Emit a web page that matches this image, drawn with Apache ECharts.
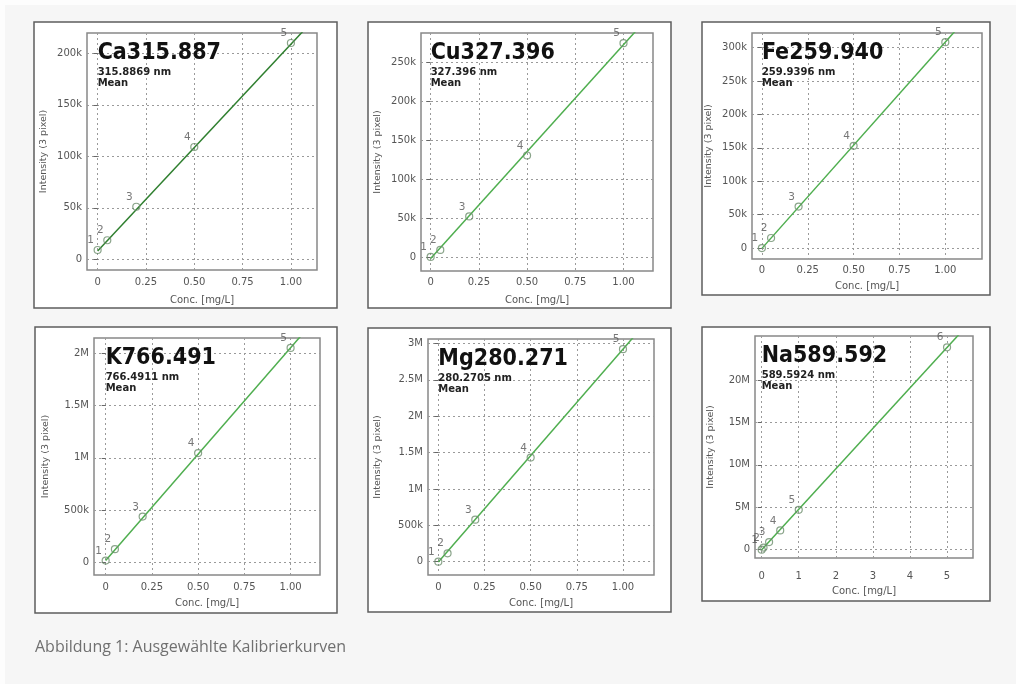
<!DOCTYPE html>
<html>
<head>
<meta charset="utf-8">
<script src="https://cdn.jsdelivr.net/npm/echarts@6/dist/echarts.min.js"></script>
<style>
  html, body { margin: 0; padding: 0; background: #fdfdfd; }
  #chart { width: 1016px; height: 684px; }
</style>
</head>
<body>
<div id="chart"></div>
<script>
// ---- Calibration standards: concentration [mg/L] vs. mean intensity (3 pixel) ----
const concTicks = [0, 0.25, 0.5, 0.75, 1.0];
const concLabels = ['0', '0.25', '0.50', '0.75', '1.00'];

// Ca 315.887
const caLine = 'Ca315.887';
const caWave = '315.8869 nm';
const caConc = [0, 0.05, 0.2, 0.5, 1.0];
const caIntensity = [9000, 18500, 51000, 109000, 210000];
const caFit = [[0, 8000], [1.2, 249000]];
const caXRange = [-0.055, 1.135];
const caYRange = [-10400, 219700];
const caYTicks = [0, 50000, 100000, 150000, 200000];
const caYLabels = ['0', '50k', '100k', '150k', '200k'];

// Cu 327.396
const cuLine = 'Cu327.396';
const cuWave = '327.396 nm';
const cuConc = [0, 0.05, 0.2, 0.5, 1.0];
const cuIntensity = [1000, 10000, 53000, 131000, 275000];
const cuFit = [[0, -1000], [1.2, 327800]];
const cuXRange = [-0.05, 1.153];
const cuYRange = [-17000, 288000];
const cuYTicks = [0, 50000, 100000, 150000, 200000, 250000];
const cuYLabels = ['0', '50k', '100k', '150k', '200k', '250k'];

// Fe 259.940
const feLine = 'Fe259.940';
const feWave = '259.9396 nm';
const feConc = [0, 0.05, 0.2, 0.5, 1.0];
const feIntensity = [0, 15000, 62000, 153000, 308000];
const feFit = [[0, -500], [1.2, 370000]];
const feXRange = [-0.054, 1.2];
const feYRange = [-16400, 321800];
const feYTicks = [0, 50000, 100000, 150000, 200000, 250000, 300000];
const feYLabels = ['0', '50k', '100k', '150k', '200k', '250k', '300k'];

// K 766.491
const kLine = 'K766.491';
const kWave = '766.4911 nm';
const kConc = [0, 0.05, 0.2, 0.5, 1.0];
const kIntensity = [20000, 128000, 439000, 1045000, 2048000];
const kFit = [[0, 20000], [1.2, 2456000]];
const kXRange = [-0.063, 1.159];
const kYRange = [-118000, 2143000];
const kYTicks = [0, 500000, 1000000, 1500000, 2000000];
const kYLabels = ['0', '500k', '1M', '1.5M', '2M'];

// Mg 280.271
const mgLine = 'Mg280.271';
const mgWave = '280.2705 nm';
const mgConc = [0, 0.05, 0.2, 0.5, 1.0];
const mgIntensity = [0, 115000, 577000, 1430000, 2920000];
const mgFit = [[0, -5000], [1.2, 3505000]];
const mgXRange = [-0.056, 1.168];
const mgYRange = [-183000, 3060000];
const mgYTicks = [0, 500000, 1000000, 1500000, 2000000, 2500000, 3000000];
const mgYLabels = ['0', '500k', '1M', '1.5M', '2M', '2.5M', '3M'];

// Na 589.592
const naLine = 'Na589.592';
const naWave = '589.5924 nm';
const naConc = [0, 0.05, 0.2, 0.5, 1.0, 5.0];
const naIntensity = [0, 250000, 900000, 2270000, 4700000, 23850000];
const naFit = [[0, -20000], [6, 28600000]];
const naXRange = [-0.18, 5.7];
const naYRange = [-980000, 25180000];
const naXTicks = [0, 1, 2, 3, 4, 5];
const naXLabels = ['0', '1', '2', '3', '4', '5'];
const naYTicks = [0, 5000000, 10000000, 15000000, 20000000];
const naYLabels = ['0', '5M', '10M', '15M', '20M'];

const xName = 'Conc. [mg/L]';
const yName = 'Intensity (3 pixel)';
const caption = 'Abbildung 1: Ausgewählte Kalibrierkurven';

// ---- Panel layout ----
const panels = [
  { title: caLine, wave: caWave, conc: caConc, val: caIntensity, fit: caFit, xr: caXRange, yr: caYRange,
    xt: concTicks, xl: concLabels, yt: caYTicks, yl: caYLabels, lineColor: '#2f7f2f',
    grid: { left: 87, top: 33, width: 230, height: 237 }, frame: [34, 22, 303, 286], yGap: 38, xGap: 25, xMargin: 7 },
  { title: cuLine, wave: cuWave, conc: cuConc, val: cuIntensity, fit: cuFit, xr: cuXRange, yr: cuYRange,
    xt: concTicks, xl: concLabels, yt: cuYTicks, yl: cuYLabels, lineColor: '#4fae4f',
    grid: { left: 421, top: 33, width: 232, height: 238 }, frame: [368, 22, 303, 286], yGap: 38, xGap: 24, xMargin: 6 },
  { title: feLine, wave: feWave, conc: feConc, val: feIntensity, fit: feFit, xr: feXRange, yr: feYRange,
    xt: concTicks, xl: concLabels, yt: feYTicks, yl: feYLabels, lineColor: '#4fae4f',
    grid: { left: 752, top: 33, width: 230, height: 226 }, frame: [702, 22, 288, 273], yGap: 38, xGap: 22, xMargin: 6 },
  { title: kLine, wave: kWave, conc: kConc, val: kIntensity, fit: kFit, xr: kXRange, yr: kYRange,
    xt: concTicks, xl: concLabels, yt: kYTicks, yl: kYLabels, lineColor: '#4fae4f',
    grid: { left: 94, top: 338, width: 226, height: 237 }, frame: [35, 327, 302, 286], yGap: 43, xGap: 23, xMargin: 7 },
  { title: mgLine, wave: mgWave, conc: mgConc, val: mgIntensity, fit: mgFit, xr: mgXRange, yr: mgYRange,
    xt: concTicks, xl: concLabels, yt: mgYTicks, yl: mgYLabels, lineColor: '#4fae4f',
    grid: { left: 428, top: 339, width: 226, height: 236 }, frame: [368, 328, 303, 284], yGap: 45, xGap: 23, xMargin: 7 },
  { title: naLine, wave: naWave, conc: naConc, val: naIntensity, fit: naFit, xr: naXRange, yr: naYRange,
    xt: naXTicks, xl: naXLabels, yt: naYTicks, yl: naYLabels, lineColor: '#4fae4f',
    grid: { left: 755, top: 336, width: 218, height: 222 }, frame: [702, 327, 288, 274], yGap: 39, xGap: 28, xMargin: 13 }
];

const FONT = '"DejaVu Sans", Verdana, sans-serif';
const labelFor = (ticks, labels) => v => {
  const i = ticks.findIndex(t => Math.abs(t - v) <= Math.abs(t) * 1e-9 + 1e-9);
  return i >= 0 ? labels[i] : '';
};
const gridLine = { show: true, lineStyle: { color: '#9a9a9a', width: 1, type: [2, 3] } };

const grids = [], xAxes = [], yAxes = [], series = [];
panels.forEach((p, i) => {
  grids.push(Object.assign({ show: true, backgroundColor: '#ffffff', borderColor: '#888888', borderWidth: 1.5 }, p.grid));
  xAxes.push({
    type: 'value', gridIndex: i, min: p.xr[0], max: p.xr[1],
    name: xName, nameLocation: 'middle', nameGap: p.xGap,
    nameTextStyle: { fontFamily: FONT, fontSize: 10, color: '#555' },
    axisLine: { show: false },
    axisTick: { show: false, customValues: p.xt },
    axisLabel: { customValues: p.xt, formatter: labelFor(p.xt, p.xl), fontFamily: FONT, fontSize: 10, color: '#555', margin: p.xMargin },
    splitLine: gridLine
  });
  yAxes.push({
    type: 'value', gridIndex: i, min: p.yr[0], max: p.yr[1],
    name: yName, nameLocation: 'middle', nameGap: p.yGap, nameRotate: 90,
    nameTextStyle: { fontFamily: FONT, fontSize: 9.5, color: '#555' },
    axisLine: { show: false },
    axisTick: { show: true, length: 4, customValues: p.yt, lineStyle: { color: '#666', width: 1 } },
    axisLabel: { customValues: p.yt, formatter: labelFor(p.yt, p.yl), fontFamily: FONT, fontSize: 10, color: '#555',
                 margin: 5, padding: [0, 0, 4, 0] },
    splitLine: gridLine
  });
  series.push({
    type: 'line', xAxisIndex: i, yAxisIndex: i, data: p.fit, showSymbol: false, silent: true,
    lineStyle: { color: p.lineColor, width: 1.5 }, z: 2, animation: false
  });
  series.push({
    type: 'scatter', xAxisIndex: i, yAxisIndex: i,
    data: p.conc.map((c, k) => [c, p.val[k]]),
    symbol: 'circle', symbolSize: 7, z: 3, animation: false,
    itemStyle: { color: 'rgba(255,255,255,0)', borderColor: '#6d8d6d', borderWidth: 1.2 },
    label: { show: true, formatter: d => String(d.dataIndex + 1), position: 'top', distance: 0, offset: [-7, 0],
             fontFamily: FONT, fontSize: 10.5, color: '#555' }
  });
});

const chart = echarts.init(document.getElementById('chart'), null, { renderer: 'canvas' });

const baseGraphics = [
  { type: 'rect', z: -20, shape: { x: 5, y: 5, width: 1011, height: 679 }, style: { fill: '#f6f6f6' } },
  ...panels.map(p => ({
    type: 'rect', z: -10,
    shape: { x: p.frame[0], y: p.frame[1], width: p.frame[2], height: p.frame[3] },
    style: { fill: '#ffffff', stroke: '#5e5e5e', lineWidth: 1.5 }
  })),
  { type: 'text', z: 10, x: 35, y: 647,
    style: { text: caption, font: '16px "Open Sans", sans-serif', fill: '#707070', verticalAlign: 'middle' } }
];

chart.setOption({
  backgroundColor: '#fdfdfd',
  animation: false,
  grid: grids, xAxis: xAxes, yAxis: yAxes, series: series,
  graphic: baseGraphics
});

// Element name and wavelength block, anchored at x = 0 of each panel
const titleGraphics = [];
panels.forEach((p, i) => {
  const x0 = chart.convertToPixel({ xAxisIndex: i }, 0);
  const top = p.grid.top;
  titleGraphics.push(
    { type: 'text', z: 20, x: x0, y: top + 20,
      style: { text: p.title, font: 'bold 23px "DejaVu Sans Condensed", "DejaVu Sans", sans-serif', fill: '#111', verticalAlign: 'middle' } },
    { type: 'text', z: 20, x: x0, y: top + 39,
      style: { text: p.wave, font: 'bold 10px "DejaVu Sans", sans-serif', fill: '#222', verticalAlign: 'middle' } },
    { type: 'text', z: 20, x: x0, y: top + 50.5,
      style: { text: 'Mean', font: 'bold 10px "DejaVu Sans", sans-serif', fill: '#222', verticalAlign: 'middle' } }
  );
});
chart.setOption({ graphic: baseGraphics.concat(titleGraphics) });
</script>
</body>
</html>
